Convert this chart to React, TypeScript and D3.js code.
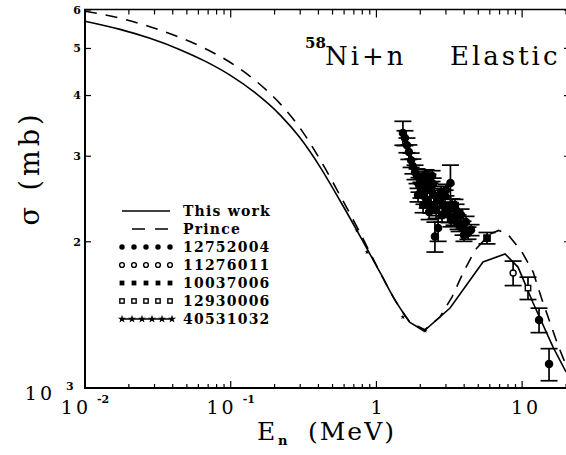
import * as d3 from "d3";

// curves: [E (MeV), sigma (mb)]
const thisWork: [number, number][] = [
  [0.01, 5690], [0.0174, 5473], [0.0279, 5246], [0.0449, 4972], [0.0666, 4708],
  [0.0989, 4406], [0.1468, 4055], [0.218, 3650], [0.299, 3273], [0.41, 2853],
  [0.563, 2429], [0.772, 2055], [1.059, 1729], [1.342, 1517], [1.7, 1364],
  [2.12, 1310], [3.2, 1461], [5.39, 1817], [7.63, 1888], [9.37, 1774],
  [11.9, 1496], [16.3, 1214], [20, 1079],
];

const prince: [number, number][] = [
  [0.01, 5967], [0.0174, 5770], [0.0279, 5543], [0.0449, 5267], [0.0666, 4999],
  [0.0989, 4683], [0.1468, 4300], [0.218, 3850], [0.299, 3429], [0.41, 2954],
  [0.563, 2491], [0.736, 2145], [1.059, 1729], [1.342, 1517], [1.7, 1364],
  [2.15, 1318], [2.73, 1400], [3.3, 1539], [3.93, 1725], [4.75, 1923],
  [6.0, 2074], [6.9, 2110], [7.9, 2080], [9.98, 1905], [11.9, 1733],
  [13.5, 1539], [15.5, 1367], [17.6, 1226], [20, 1115],
];

// measurements: [E, sigma, error]
const exfor12752004: [number, number, number][] = [
  [1.52, 3350, 190], [1.57, 3270, 115], [1.62, 3160, 110], [1.67, 3060, 105],
  [1.73, 2945, 100], [1.78, 2860, 100], [1.84, 2780, 95], [1.9, 2730, 95],
  [1.93, 2496, 80], [1.96, 2620, 90], [2.02, 2556, 95], [2.06, 2705, 80],
  [2.09, 2380, 85], [2.12, 2484, 95], [2.16, 2617, 80], [2.19, 2743, 70],
  [2.23, 2437, 90], [2.26, 2679, 75], [2.3, 2302, 80], [2.33, 2556, 85],
  [2.37, 2380, 90], [2.41, 2731, 70], [2.45, 2629, 75], [2.49, 2496, 80],
  [2.52, 2050, 145], [2.57, 2324, 90], [2.61, 2437, 75], [2.65, 2134, 130],
  [2.69, 2437, 80], [2.78, 2532, 70], [2.82, 2270, 75], [2.87, 2380, 80],
  [2.96, 2484, 70], [3.0, 2556, 70], [3.05, 2324, 80], [3.15, 2270, 80],
  [3.22, 2641, 235], [3.25, 2217, 70], [3.3, 2380, 70], [3.41, 2238, 75],
  [3.46, 2380, 65], [3.52, 2324, 65], [3.63, 2196, 75], [3.69, 2165, 65],
  [3.81, 2270, 65], [3.93, 2134, 70], [3.99, 2064, 60], [4.12, 2196, 60],
  [4.25, 2084, 60], [4.46, 2114, 55], [13.06, 1380, 80], [15.3, 1120, 85],
];
const exfor11276011: [number, number, number][] = [[8.67, 1725, 100]];
const exfor10037006: [number, number, number][] = [[5.74, 2035, 55]];
const exfor12930006: [number, number, number][] = [[10.97, 1606, 85]];
const exfor40531032: [number, number][] = [
  [0.736, 2110], [0.862, 1905], [1.52, 1400], [2.16, 1312],
];

const yTickValues = [2000, 3000, 4000, 5000, 6000];
const yTickLabels = ["2", "3", "4", "5", "6"];
const legendLabels = ["This work", "Prince", "12752004", "11276011", "10037006", "12930006", "40531032"];

const W = 566;
const H = 455;
const serif = "'DejaVu Serif', serif";
const SMOOTH_END = 1.7; // curves are smooth below this energy, polyline above

const x = d3.scaleLog().domain([0.01, 20]).range([85, 566]);
const y = d3.scaleLog().domain([1000, 6000]).range([388, 10]);

type Kind = "solid" | "dashed" | "dot" | "ocircle" | "square" | "osquare" | "star";
const legendKinds: Kind[] = ["solid", "dashed", "dot", "ocircle", "square", "osquare", "star"];

const star = d3.symbol(d3.symbolStar).size(26);

function Marker({ kind, cx, cy, s = 1 }: { kind: Kind; cx: number; cy: number; s?: number }) {
  if (kind === "dot") return <circle cx={cx} cy={cy} r={3.4 * s} fill="#000" />;
  if (kind === "ocircle")
    return <circle cx={cx} cy={cy} r={3 * s} fill="#fff" stroke="#000" strokeWidth={1.4} />;
  if (kind === "square")
    return <rect x={cx - 3 * s} y={cy - 3 * s} width={6 * s} height={6 * s} fill="#000" />;
  if (kind === "osquare")
    return (
      <rect x={cx - 2.7 * s} y={cy - 2.7 * s} width={5.4 * s} height={5.4 * s}
        fill="#fff" stroke="#000" strokeWidth={1.4} />
    );
  return <path d={star() || ""} transform={`translate(${cx},${cy}) scale(${s})`} fill="#000" />;
}

function ErrorPoints({ data, kind }: { data: [number, number, number][]; kind: Kind }) {
  return (
    <g>
      {data.map(([e, s, err], i) => {
        const px = x(e);
        const top = y(s + err);
        const bot = y(s - err);
        return (
          <g key={i} stroke="#000" strokeWidth={1.7}>
            <line x1={px} x2={px} y1={top} y2={bot} />
            <line x1={px - 8.5} x2={px + 8.5} y1={top} y2={top} />
            <line x1={px - 8.5} x2={px + 8.5} y1={bot} y2={bot} />
            <Marker kind={kind} cx={px} cy={y(s)} />
          </g>
        );
      })}
    </g>
  );
}

function Curve({ data, dash }: { data: [number, number][]; dash?: string }) {
  const smooth = d3
    .line<[number, number]>()
    .x((d) => x(d[0]))
    .y((d) => y(d[1]))
    .curve(d3.curveMonotoneX);
  const poly = d3
    .line<[number, number]>()
    .x((d) => x(d[0]))
    .y((d) => y(d[1]));
  const low = data.filter((d) => d[0] <= SMOOTH_END);
  const high = data.filter((d) => d[0] >= SMOOTH_END);
  return (
    <path
      d={(smooth(low) || "") + (poly(high) || "").replace(/^M/, "L")}
      fill="none"
      stroke="#000"
      strokeWidth={1.6}
      strokeDasharray={dash}
    />
  );
}

export default function App() {
  const xTicks = x.ticks();
  const isDecade = (v: number) => Math.abs(Math.log10(v) - Math.round(Math.log10(v))) < 1e-6;

  const legendTop = 211;
  const legendStep = 18;

  return (
    <svg width={W} height={H} style={{ position: "absolute", left: 0, top: 0, background: "#fff" }}>
      {/* frame */}
      <g stroke="#000" fill="none">
        <line x1={85} x2={85} y1={9} y2={389} strokeWidth={2} />
        <line x1={84} x2={566} y1={388} y2={388} strokeWidth={2} />
        <line x1={84} x2={566} y1={9.5} y2={9.5} strokeWidth={1.5} />
        {xTicks.map((t, i) => {
          const len = isDecade(t) ? 7 : 4;
          return (
            <g key={i} strokeWidth={1.2}>
              <line x1={x(t)} x2={x(t)} y1={388} y2={388 - len} />
              <line x1={x(t)} x2={x(t)} y1={9.5} y2={9.5 + len + 1} />
            </g>
          );
        })}
        {yTickValues.map((t, i) => (
          <g key={i} strokeWidth={1.2}>
            <line x1={85} x2={91} y1={y(t)} y2={y(t)} />
            <line x1={564} x2={567} y1={y(t)} y2={y(t)} />
          </g>
        ))}
      </g>

      {/* y tick labels */}
      <g fontFamily={serif} fontWeight="bold" fontSize={11} textAnchor="end">
        {yTickValues.map((t, i) => (
          <text key={i} x={81} y={y(t)} dy="0.35em">{yTickLabels[i]}</text>
        ))}
      </g>
      <text x={55} y={400} fontFamily={serif} fontSize={19} letterSpacing={3} textAnchor="end">10</text>
      <text x={66} y={390} fontFamily={serif} fontWeight="bold" fontSize={11}>3</text>

      {/* x tick labels */}
      <g fontFamily={serif} fontSize={19}>
        {[0.01, 0.1].map((t, i) => (
          <g key={i}>
            <text x={x(t) + 6} y={414} letterSpacing={3} textAnchor="end">10</text>
            <text x={x(t) + 12} y={403} fontSize={11} fontWeight="bold">{i === 0 ? "-2" : "-1"}</text>
          </g>
        ))}
        <text x={x(1)} y={414} textAnchor="middle">1</text>
        <text x={x(10) + 4} y={414} textAnchor="middle" letterSpacing={3}>10</text>
      </g>

      {/* axis titles */}
      <g fontFamily={serif} fontSize={25}>
        <text x={257} y={440} letterSpacing={2}>E</text>
        <text x={278} y={445} fontSize={13} fontWeight="bold">n</text>
        <text x={308} y={440} letterSpacing={2}>(MeV)</text>
      </g>
      <text transform="translate(39,168) rotate(-90)" textAnchor="middle" fontFamily={serif}
        fontSize={27} letterSpacing={4}>σ (mb)</text>

      {/* title */}
      <g fontFamily={serif}>
        <text x={305} y={48} fontSize={15} fontWeight="bold">58</text>
        <text x={325} y={65} fontSize={26} letterSpacing={3}>Ni+n</text>
        <text x={450} y={65} fontSize={26} letterSpacing={3}>Elastic</text>
      </g>

      {/* curves */}
      <Curve data={thisWork} />
      <Curve data={prince} dash="12,9" />

      {/* data */}
      {exfor40531032.map(([e, s], i) => (
        <Marker key={i} kind="star" cx={x(e)} cy={y(s)} s={0.55} />
      ))}
      <ErrorPoints data={exfor12752004} kind="dot" />
      <ErrorPoints data={exfor11276011} kind="ocircle" />
      <ErrorPoints data={exfor10037006} kind="square" />
      <ErrorPoints data={exfor12930006} kind="osquare" />

      {/* legend */}
      {legendLabels.map((lab, i) => {
        const ry = legendTop + i * legendStep;
        const kind = legendKinds[i];
        let sample;
        if (kind === "solid") {
          sample = <line x1={122} x2={170} y1={ry} y2={ry} stroke="#000" strokeWidth={1.6} />;
        } else if (kind === "dashed") {
          sample = (
            <line x1={132} x2={170} y1={ry} y2={ry} stroke="#000" strokeWidth={1.6} strokeDasharray="13,10" />
          );
        } else if (kind === "star") {
          sample = (
            <g>
              <line x1={120} x2={172} y1={ry} y2={ry} stroke="#000" strokeWidth={1.5} />
              {d3.range(6).map((k) => (
                <Marker key={k} kind="star" cx={122 + k * 10} cy={ry} s={0.9} />
              ))}
            </g>
          );
        } else {
          sample = (
            <g>
              {d3.range(5).map((k) => (
                <Marker key={k} kind={kind} cx={122 + k * 12} cy={ry} s={0.8} />
              ))}
            </g>
          );
        }
        return (
          <g key={i}>
            {sample}
            <text x={183} y={ry + 5} fontFamily={serif} fontWeight="bold" fontSize={14} letterSpacing={1.2}>
              {lab}
            </text>
          </g>
        );
      })}
    </svg>
  );
}
